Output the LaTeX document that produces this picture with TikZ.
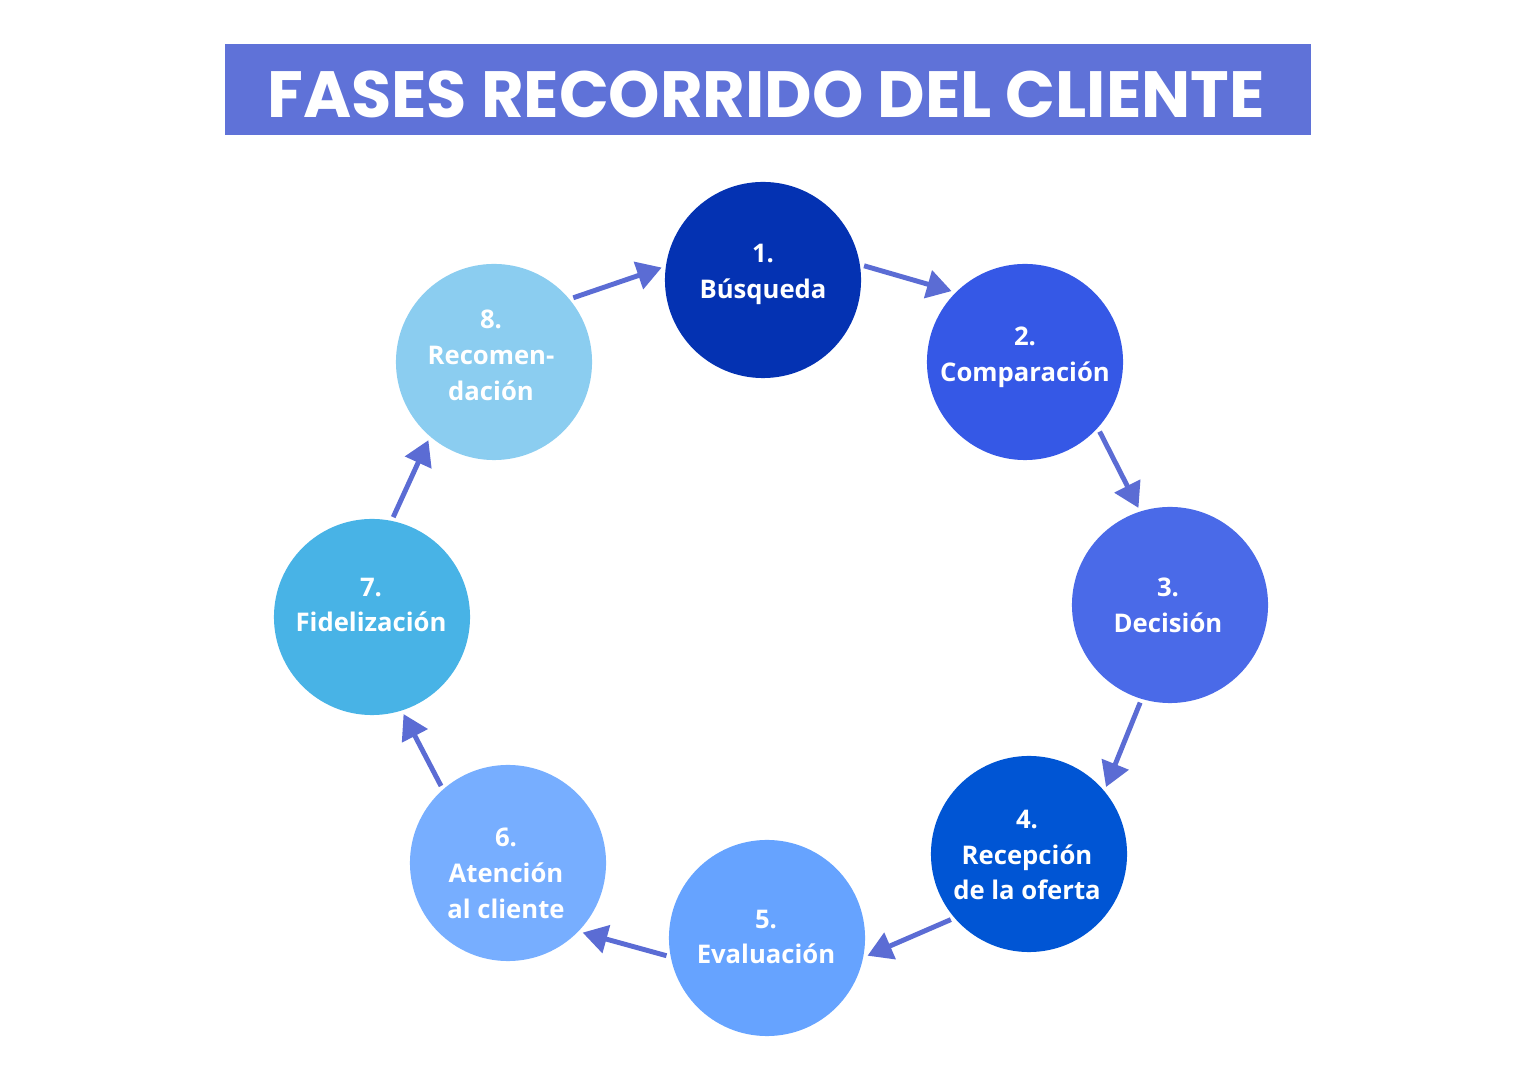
\documentclass[tikz,border=0pt]{standalone}
\usepackage{fontspec}
\setmainfont{Open Sans}
\newfontfamily\titlefont{Poppins}
\usetikzlibrary{arrows.meta,positioning}
\definecolor{banner}{HTML}{5F72D8}
\definecolor{arrcol}{HTML}{5B6CD4}
\definecolor{ph1}{HTML}{0432B2}
\definecolor{ph2}{HTML}{3558E6}
\definecolor{ph3}{HTML}{4A6AE8}
\definecolor{ph4}{HTML}{0055D4}
\definecolor{ph5}{HTML}{66A3FF}
\definecolor{ph6}{HTML}{77AEFF}
\definecolor{ph7}{HTML}{48B3E6}
\definecolor{ph8}{HTML}{8BCDF0}
\tikzset{phase/.style={circle, minimum size=1.96cm, inner sep=0pt, outer sep=0.04cm}}
\tikzset{phtext/.style={text=white, align=center, font=\bfseries\fontsize{7.3}{10.2}\selectfont}}
\tikzset{arr/.style={draw=arrcol, line width=1.4pt, -{Triangle[length=7pt, width=8pt]}}}

\begin{document}
\begin{tikzpicture}[x=0.01cm, y=-0.01cm]
	\useasboundingbox (0,0) rectangle (1536,1086);
	
	\node[fill=banner, minimum width=10.86cm, minimum height=0.91cm, inner sep=0pt] (title) at (768,89.5){};
	\node[text=white, font=\titlefont\bfseries\fontsize{18.6}{22}\selectfont] (titletext) at (766,94){FASES RECORRIDO DEL CLIENTE};
	
	\node[phase, fill=ph1] (c1) at (763,280){};
	\node[phase, fill=ph2] (c2) at (1025,362){};
	\node[phase, fill=ph3] (c3) at (1170,605){};
	\node[phase, fill=ph4] (c4) at (1029,854){};
	\node[phase, fill=ph5] (c5) at (767,938){};
	\node[phase, fill=ph6] (c6) at (508,863){};
	\node[phase, fill=ph7] (c7) at (372,617){};
	\node[phase, fill=ph8] (c8) at (494,362){};
	
	\node[phtext] (t1) at (763,274){1.\\Búsqueda};
	\node[phtext] (t2) at (1025,357){2.\\Comparación};
	\node[phtext] (t3) at (1168,605){3.\\Decisión};
	\node[phtext] (t4) at (1027,855){4.\\Recepción\\de la oferta};
	\node[phtext] (t5) at (766,937){5.\\Evaluación};
	\node[phtext] (t6) at (506,873){6.\\Atención\\al cliente};
	\node[phtext] (t7) at (371,605){7.\\Fidelización};
	\node[phtext] (t8) at (491,355){8.\\Recomen-\\dación};
	
	\draw[arr] (c1.8) -- (c2.136);
	\draw[arr] (c2.-43) -- (c3.108);
	\draw[arr] (c3.-107) -- (c4.41);
	\draw[arr] (c4.-140) -- (c5.-10);
	\draw[arr] (c5.190) -- (c6.-43);
	\draw[arr] (c6.131) -- (c7.-72);
	\draw[arr] (c7.78) -- (c8.-130);
	\draw[arr] (c8.39) -- (c1.173);
\end{tikzpicture}
\end{document}
